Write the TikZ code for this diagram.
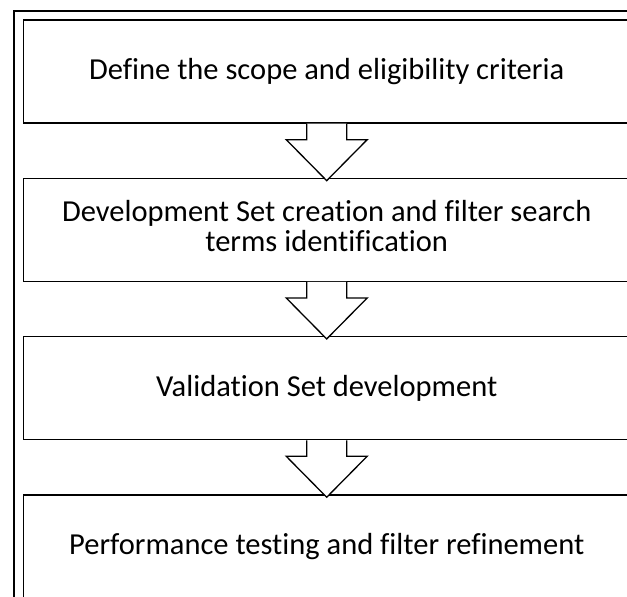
\documentclass[tikz,border=0pt]{standalone}
\usepackage{fontspec}
\setmainfont{Carlito}[Ligatures=CommonOff]
\usetikzlibrary{positioning,calc}

% hollow block arrow from the bottom of one box to the top of the next
\newcommand{\blockarrow}[2]{%
  \draw[hollow] ($(#1.south)+(-20,0)$) -- ++(0,-16) -- ++(-20.5,0)
    -- ($(#2.north)+(0,-3)$) -- ($(#1.south)+(40.5,-16)$) -- ++(-20.5,0)
    -- ($(#1.south)+(20,0)$);}

\begin{document}
\begin{tikzpicture}[x=1pt, y=1pt,
    stepbox/.style={draw, line width=1.3pt, minimum width=607pt, minimum height=103pt,
      inner sep=0pt, align=center, font=\fontsize{30.5}{29.5}\selectfont},
    steptext/.style={inner sep=0pt, align=center, font=\fontsize{30.5}{29.5}\selectfont},
    hollow/.style={draw, fill=white, line width=1.3pt, line join=miter},
    node distance=54pt]
    \clip (0,0) rectangle (627,-597);

    % Outer frame
    \draw[line width=2pt] (14,-10.5) rectangle (639,-605);

    % Steps
    \node[stepbox] (scope) at (326.7,-71.5) {Define the scope and eligibility criteria};
    \node[stepbox, below=of scope] (devset) {};
    \node[steptext] (devtext) at ([yshift=4pt]devset.center)
      {Development Set creation and filter search\\terms identification};
    \node[stepbox, below=of devset] (valset) {Validation Set development};
    \node[stepbox, below=of valset] (perf) {Performance testing and filter refinement};

    % Arrows
    \blockarrow{scope}{devset}
    \blockarrow{devset}{valset}
    \blockarrow{valset}{perf}

\end{tikzpicture}
\end{document}
